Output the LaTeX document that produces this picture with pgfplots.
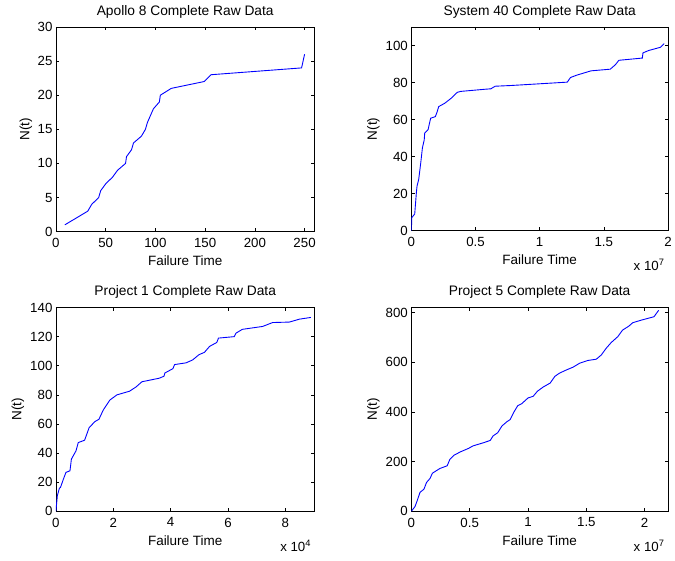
\documentclass[border=0pt]{standalone}
\usepackage{fontspec}
\setmainfont{Liberation Sans}
\usepackage{pgfplots}
\pgfplotsset{compat=1.18}

\pgfplotsset{
  mpanel/.style={
    scale only axis, anchor=north west, xmin=0, ymin=0,
    axis line style={black, line width=0.7pt},
    tick align=inside, major tick length=3.5bp,
    tick style={black, line width=0.6pt},
    /pgf/number format/assume math mode=true,
    tick label style={font=\fontsize{13.3bp}{15bp}\selectfont},
    xticklabel style={yshift=-3bp},
    title style={font=\fontsize{13.8bp}{15bp}\selectfont, at={(0.5,1)}, anchor=base, yshift=6bp},
    xlabel style={font=\fontsize{13.5bp}{15bp}\selectfont, at={(0.5,0)}, anchor=base, yshift=-34bp},
    ylabel style={font=\fontsize{13.5bp}{15bp}\selectfont, rotate=0, anchor=center},
    xlabel={Failure Time}, ylabel={N(t)},
    scaled ticks=false, no markers,
    every axis plot/.append style={blue, line width=0.9pt},
  },
  scalelab/.style={
    extra description/.code={
      \node[anchor=base east, font=\fontsize{13.3bp}{15bp}\selectfont] at (1,-0.198) {x 10\textsuperscript{#1}};
    }
  }
}

\begin{document}
\begin{tikzpicture}
\path (0,0) rectangle (675bp,-561bp);

% Apollo 8
\begin{axis}[mpanel, at={(56bp,-27bp)}, width=259bp, height=205bp,
  xmax=260, ymax=30, xtick={0,50,100,150,200,250}, ytick={0,5,10,15,20,25,30},
  ylabel style={at={(-0.116,0.5)}},
  title={Apollo 8 Complete Raw Data}]
\addplot coordinates {(9,1) (32,3) (36,4) (43,5) (45,6) (50,7) (57,8) (62,9) (70,10) (71,11) (76,12) (78,13) (86,14) (90,15) (92,16) (95,17) (98,18) (104,19) (105,20) (116,21) (149,22) (156,23) (247,24) (250,26)};
\end{axis}

% System 40 (x in units of 1e7)
\begin{axis}[mpanel, scalelab=7, at={(412bp,-27bp)}, width=257bp, height=204bp,
  xmax=2, ymax=110, xtick={0,0.5,1,1.5,2}, xticklabels={0,0.5,1,1.5,2}, ytick={0,20,40,60,80,100},
  ylabel style={at={(-0.148,0.5)}},
  title={System 40 Complete Raw Data}]
\addplot coordinates {(0,0) (0.003,7) (0.026,9) (0.039,20.6) (0.044,24) (0.057,27.7) (0.073,36.6) (0.086,44.7) (0.1,49) (0.104,52.7) (0.13,54.5) (0.15,60.7) (0.187,61.6) (0.2,64) (0.213,67) (0.26,68.8) (0.31,71.5) (0.358,74.7) (0.384,75.2) (0.58,76.4) (0.62,76.6) (0.64,77.5) (0.654,78) (0.78,78.4) (1.215,80.2) (1.24,82.7) (1.29,84) (1.4,86.3) (1.55,87.2) (1.59,89.6) (1.617,92) (1.8,93.2) (1.805,96) (1.85,97.3) (1.94,99) (1.97,101)};
\end{axis}

% Project 1 (x in units of 1e4)
\begin{axis}[mpanel, scalelab=4, at={(56bp,-308bp)}, width=259bp, height=204bp,
  xmax=9.02, ymax=140, xtick={0,2,4,6,8}, xticklabels={0,2,4,6,8}, ytick={0,20,40,60,80,100,120,140},
  ylabel style={at={(-0.147,0.5)}},
  title={Project 1 Complete Raw Data}]
\addplot coordinates {(0,0) (0.05,10.7) (0.12,15.7) (0.16,16.4) (0.26,22) (0.35,26.7) (0.49,27.8) (0.54,35.8) (0.7,41.5) (0.78,47.2) (1.0,48.8) (1.16,57.5) (1.36,61.6) (1.5,63.2) (1.65,69.5) (1.88,76.4) (2.13,80) (2.57,82.5) (2.8,85.5) (3.0,89) (3.6,91.4) (3.77,92.8) (3.8,95) (4.08,98) (4.14,100.8) (4.54,102) (4.77,104) (4.99,107.6) (5.18,109.2) (5.36,113.3) (5.61,116) (5.67,119) (6.22,120) (6.28,122.4) (6.5,125) (7.21,127) (7.56,129.7) (8.14,130) (8.49,132) (8.89,133.2)};
\end{axis}

% Project 5 (x in units of 1e7)
\begin{axis}[mpanel, scalelab=7, at={(412bp,-308bp)}, width=257bp, height=204bp,
  xmax=2.2, ymax=820, xtick={0,0.5,1,1.5,2}, xticklabels={0,0.5,1,1.5,2}, ytick={0,200,400,600,800},
  ylabel style={at={(-0.148,0.5)}},
  title={Project 5 Complete Raw Data}]
\addplot coordinates {(0,0) (0.031,18.7) (0.05,42.7) (0.074,76) (0.108,89) (0.13,116) (0.16,132) (0.18,153) (0.244,172) (0.307,183) (0.33,209) (0.364,225) (0.42,239) (0.49,253) (0.528,263) (0.62,276) (0.676,285) (0.7,303) (0.74,316) (0.776,343) (0.818,360) (0.847,369) (0.875,396) (0.912,425) (0.946,433) (1.0,456) (1.045,463) (1.08,483) (1.13,500) (1.19,516) (1.23,543) (1.27,556) (1.33,569) (1.386,580) (1.443,596) (1.514,607) (1.585,612) (1.628,629) (1.67,656) (1.713,679) (1.77,703) (1.81,729) (1.864,745) (1.898,759) (1.969,769) (2.08,783) (2.10,796) (2.12,809)};
\end{axis}
\end{tikzpicture}
\end{document}
